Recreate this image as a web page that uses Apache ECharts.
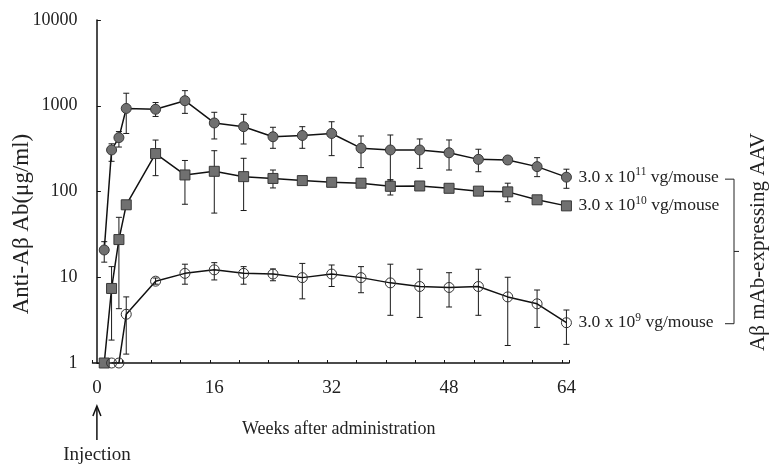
<!DOCTYPE html>
<html>
<head>
<meta charset="utf-8">
<script src="https://cdn.jsdelivr.net/npm/echarts@6/dist/echarts.min.js"></script>
<style>
  html, body { margin: 0; padding: 0; background: #ffffff; }
  #chart { width: 773px; height: 467px; }
</style>
</head>
<body>
<div id="chart"></div>
<script>
const SERIF = '"Liberation Serif", "Times New Roman", "DejaVu Serif", serif';

// Sampling times, weeks after administration
const weeksHi = [1, 2, 3, 4, 8, 12, 16, 20, 24, 28, 32, 36, 40, 44, 48, 52, 56, 60, 64];
const weeksMid = [1, 2, 3, 4, 8, 12, 16, 20, 24, 28, 32, 36, 40, 44, 48, 52, 56, 60, 64];
const weeksLow = [2, 3, 4, 8, 12, 16, 20, 24, 28, 32, 36, 40, 44, 48, 52, 56, 60, 64];

// 3.0 x 10^11 vg/mouse: mean and error-bar ends (µg/ml)
const hiMean = [20.8, 305, 425, 930, 910, 1145, 630, 570, 435, 450, 475, 320, 305, 305, 283, 237, 233, 195, 147];
const hiLow  = [15, 225, 330, 475, 750, 815, 410, 358, 319, 319, 262, 190, 136, 186, 178, 170, 210, 149, 109];
const hiHigh = [26, 360, 500, 1400, 1090, 1500, 839, 795, 561, 570, 651, 444, 456, 410, 399, 311, 255, 248, 182];

// 3.0 x 10^10 vg/mouse
const midMean = [1, 7.4, 27.5, 70, 277, 156, 172, 149, 142, 134, 128, 125, 115, 116, 109, 101, 99, 80, 68];
const midLow  = [1, 1.85, 4.3, 64, 153, 71, 56, 60, 110, 125, 120, 117, 91, 110, 103, 96, 76, 75, 64];
const midHigh = [1, 13.3, 50, 76, 398, 230, 299, 244, 178, 145, 137, 134, 137, 122, 116, 107, 125, 86, 73];

// 3.0 x 10^9 vg/mouse
const lowMean = [1, 1, 3.7, 9.0, 11.1, 12.2, 11.1, 10.9, 9.9, 10.9, 9.9, 8.6, 7.8, 7.6, 7.8, 5.9, 4.9, 2.95];
const lowLow  = [1, 1, 1.27, 8.3, 8.3, 9.3, 8.3, 9.1, 5.6, 7.8, 6.6, 3.6, 3.4, 4.5, 3.6, 1.6, 2.6, 1.65];
const lowHigh = [1, 1, 5.9, 9.8, 14.2, 14.8, 13.3, 12.5, 14.5, 13.9, 13.3, 14.2, 12.4, 11.3, 12.4, 10.0, 7.1, 4.15];

// Axis ticks and labels
const xTickLabels = [0, 16, 32, 48, 64];
const yTickLabels = [1, 10, 100, 1000, 10000];

// Series label exponents
const doseExp = ['11', '10', '9'];

const chart = echarts.init(document.getElementById('chart'));

const pairs = (w, v) => w.map((x, i) => [x, v[i]]);
const triples = (w, lo, hi) => w.map((x, i) => [x, lo[i], hi[i]]);

function errorBars(data) {
  return {
    type: 'custom',
    xAxisIndex: 0,
    yAxisIndex: 0,
    z: 1,
    silent: true,
    encode: { x: 0, y: [1, 2] },
    data: data,
    renderItem: function (params, api) {
      const x = api.value(0);
      const lo = api.value(1);
      const hi = api.value(2);
      if (lo === hi) return null;
      const a = api.coord([x, lo]);
      const b = api.coord([x, hi]);
      const cap = 3;
      const style = { stroke: '#1a1a1a', lineWidth: 1, fill: null };
      return {
        type: 'group',
        children: [
          { type: 'line', shape: { x1: a[0], y1: a[1], x2: b[0], y2: b[1] }, style: style },
          { type: 'line', shape: { x1: a[0] - cap, y1: a[1], x2: a[0] + cap, y2: a[1] }, style: style },
          { type: 'line', shape: { x1: b[0] - cap, y1: b[1], x2: b[0] + cap, y2: b[1] }, style: style }
        ]
      };
    }
  };
}

function doseLabel(exp) {
  return {
    show: true,
    distance: 12,
    formatter: function () { return '{n|3.0 x 10}{s|' + exp + '}{n| vg/mouse}'; },
    rich: {
      n: { fontFamily: SERIF, fontSize: 17.5, color: '#222', lineHeight: 22 },
      s: { fontFamily: SERIF, fontSize: 11.5, color: '#222', lineHeight: 13, verticalAlign: 'top' }
    }
  };
}

const lineStyle = { color: '#111', width: 1.5 };
const filled = { color: '#707070', borderColor: '#383838', borderWidth: 1 };

chart.setOption({
  animation: false,
  backgroundColor: '#ffffff',
  grid: [
    { left: 92.5, right: 204, top: 20, bottom: 104 },
    { left: 96.9, right: 206.6, top: 20, bottom: 104 }
  ],
  xAxis: [
    {
      type: 'value', gridIndex: 0, min: -0.6, max: 64.35, interval: 4,
      axisLine: { show: true, lineStyle: { color: '#111', width: 1.5 } },
      axisTick: { show: true, inside: true, length: 3, lineStyle: { color: '#111', width: 1 } },
      axisLabel: { show: false },
      splitLine: { show: false }
    },
    {
      type: 'value', gridIndex: 1, min: xTickLabels[0], max: xTickLabels[xTickLabels.length - 1], interval: 16,
      axisLine: { show: false },
      axisTick: { show: false },
      splitLine: { show: false },
      axisLabel: {
        margin: 16, fontFamily: SERIF, fontSize: 19, color: '#222',
        formatter: function (v) { return xTickLabels.indexOf(v) >= 0 ? String(v) : ''; }
      },
      name: 'Weeks after administration',
      nameLocation: 'middle',
      nameGap: 57,
      nameTextStyle: { fontFamily: SERIF, fontSize: 18, color: '#222', padding: [0, 0, 0, 14] }
    }
  ],
  yAxis: [
    {
      type: 'log', gridIndex: 0, logBase: 10, min: 1, max: 10000,
      axisLine: { show: true, lineStyle: { color: '#111', width: 1.5 } },
      axisTick: { show: true, inside: true, length: 4, lineStyle: { color: '#111', width: 1 } },
      splitLine: { show: false },
      minorTick: { show: false },
      axisLabel: {
        margin: 15, fontFamily: SERIF, fontSize: 18, color: '#222',
        formatter: function (v) {
          const r = Math.round(v);
          return yTickLabels.indexOf(r) >= 0 ? String(r) : '';
        }
      }
    },
    { type: 'log', gridIndex: 1, min: 1, max: 10000, show: false }
  ],
  series: [
    errorBars(triples(weeksHi, hiLow, hiHigh)),
    errorBars(triples(weeksMid, midLow, midHigh)),
    errorBars(triples(weeksLow, lowLow, lowHigh)),
    {
      type: 'line', name: '3.0 x 10^11 vg/mouse', xAxisIndex: 0, yAxisIndex: 0, z: 3,
      data: pairs(weeksHi, hiMean),
      symbol: 'circle', symbolSize: 10,
      lineStyle: lineStyle, itemStyle: filled,
      endLabel: doseLabel(doseExp[0])
    },
    {
      type: 'line', name: '3.0 x 10^10 vg/mouse', xAxisIndex: 0, yAxisIndex: 0, z: 3,
      data: pairs(weeksMid, midMean),
      symbol: 'rect', symbolSize: 10,
      lineStyle: lineStyle, itemStyle: filled,
      endLabel: doseLabel(doseExp[1])
    },
    {
      type: 'line', name: '3.0 x 10^9 vg/mouse', xAxisIndex: 0, yAxisIndex: 0, z: 3,
      data: pairs(weeksLow, lowMean),
      symbol: 'circle', symbolSize: 10,
      lineStyle: lineStyle,
      itemStyle: { color: 'rgba(255,255,255,0)', borderColor: '#333', borderWidth: 1 },
      endLabel: doseLabel(doseExp[2])
    }
  ]
});

// Annotations placed from the axes' own pixel mapping
const topEnd = chart.convertToPixel({ xAxisIndex: 0, yAxisIndex: 0 }, [weeksHi[weeksHi.length - 1], hiMean[hiMean.length - 1]]);
const botEnd = chart.convertToPixel({ xAxisIndex: 0, yAxisIndex: 0 }, [weeksLow[weeksLow.length - 1], lowMean[lowMean.length - 1]]);
const zeroPt = chart.convertToPixel({ xAxisIndex: 1, yAxisIndex: 1 }, [0, 1]);

const bx = 734, by1 = topEnd[1] + 2, by2 = botEnd[1] + 1, bmid = (by1 + by2) / 2;
const ink = { stroke: '#222', lineWidth: 1, fill: null };

chart.setOption({
  graphic: [
    { type: 'polyline', shape: { points: [[bx - 9, by1], [bx, by1], [bx, by2], [bx - 9, by2]] }, style: ink },
    { type: 'line', shape: { x1: bx, y1: bmid, x2: bx + 5, y2: bmid }, style: ink },
    {
      type: 'text', x: 758, y: 242, rotation: Math.PI / 2,
      style: { text: 'Aβ mAb-expressing AAV', fontFamily: SERIF, fontSize: 21, fill: '#222', align: 'center', verticalAlign: 'middle' }
    },
    {
      type: 'text', x: 22, y: 224, rotation: Math.PI / 2,
      style: { text: 'Anti-Aβ Ab(μg/ml)', fontFamily: SERIF, fontSize: 23, fill: '#222', align: 'center', verticalAlign: 'middle' }
    },
    // injection arrow under week 0
    { type: 'line', shape: { x1: zeroPt[0], y1: 407, x2: zeroPt[0], y2: 440 }, style: { stroke: '#111', lineWidth: 1.5 } },
    { type: 'polyline', shape: { points: [[zeroPt[0] - 4, 416], [zeroPt[0], 406], [zeroPt[0] + 4, 416]] }, style: { stroke: '#111', lineWidth: 1.5, fill: null } },
    {
      type: 'text', x: zeroPt[0], y: 455,
      style: { text: 'Injection', fontFamily: SERIF, fontSize: 19, fill: '#222', align: 'center', verticalAlign: 'middle' }
    }
  ]
});
</script>
</body>
</html>
